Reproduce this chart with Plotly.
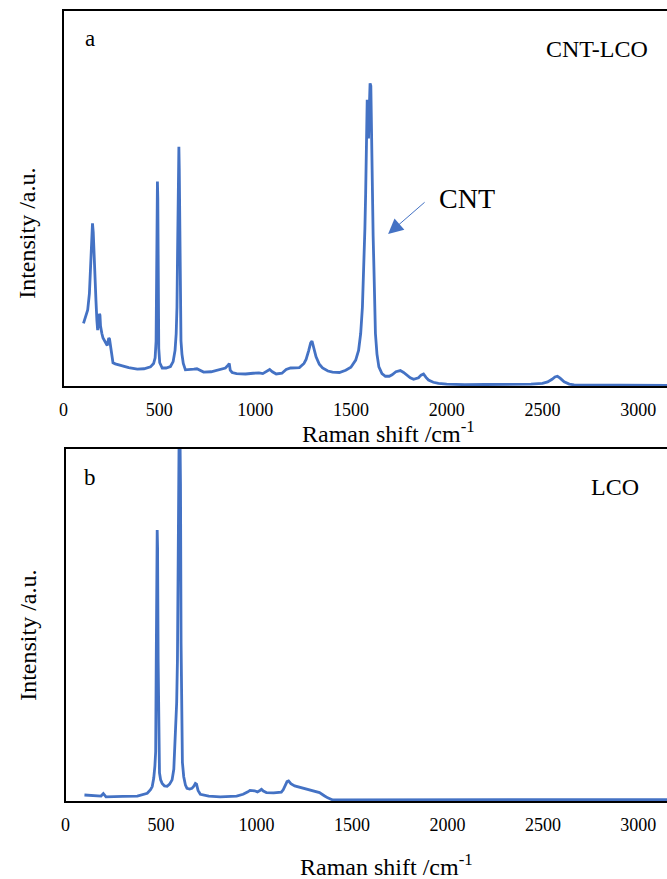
import plotly.graph_objects as go

# Raman spectrum of the CNT-LCO composite (panel a)
cnt_lco_shift = [104, 115, 126, 135, 141, 147, 151, 155, 158, 161, 165, 169, 174, 178, 183, 187, 190, 193,
                 197, 200, 206, 212, 220, 228, 232, 236, 240, 244, 248, 252, 258, 270, 299, 340, 385, 420,
                 454, 470, 478, 483, 486, 488, 490, 492, 494, 497, 502, 515, 535, 558, 572, 582, 588, 592,
                 595, 598, 600, 602, 604, 606, 609, 613, 618, 625, 636, 660, 680, 696, 710, 731, 770, 817,
                 845, 860, 865, 870, 880, 903, 950, 990, 1020, 1040, 1060, 1076, 1090, 1110, 1140, 1162,
                 1185, 1231, 1255, 1266, 1280, 1290, 1297, 1305, 1318, 1335, 1352, 1380, 1404, 1440, 1473,
                 1500, 1525, 1540, 1551, 1560, 1568, 1573, 1577, 1580, 1583, 1585, 1589, 1592, 1596, 1600,
                 1604, 1607, 1611, 1616, 1620, 1624, 1628, 1636, 1646, 1662, 1680, 1700, 1715, 1735, 1758,
                 1775, 1793, 1810, 1827, 1840, 1853, 1866, 1879, 1892, 1905, 1930, 1957, 2000, 2095, 2200,
                 2300, 2440, 2500, 2527, 2550, 2565, 2578, 2592, 2613, 2640, 2665, 2800, 3000, 3150]
cnt_lco_int = [16.7, 18.5, 20.3, 24.7, 33, 41.6, 43.4, 41, 36, 33.6, 28, 22.9, 17.5, 14.9, 17, 19.2, 18.9, 16,
               14.5, 14, 12.8, 12.3, 11.5, 10.8, 11.8, 12.8, 12.5, 11, 9.5, 7.5, 6.2, 5.9, 5.4, 4.9, 4.5, 4.6,
               5.1, 6, 7.5, 12, 30, 50, 54.5, 50, 28, 10, 6.2, 4.8, 4.8, 5.2, 6.5, 9.5, 14, 21,
               35, 55, 63, 63.8, 58, 40, 22, 12, 8.5, 6, 4.3, 4.3, 4.5, 4.6, 4.3, 3.7, 3.8, 4.4,
               4.8, 5.6, 6, 4.2, 3.6, 3.3, 3.2, 3.4, 3.5, 3.3, 3.8, 4.4, 3.8, 3.2, 3.4, 4.4,
               4.8, 4.9, 6, 7.1, 9.5, 11.5, 12, 10.5, 7.8, 5.8, 4.8, 4, 3.7, 3.6, 4.2,
               5, 6.9, 9.5, 14, 21, 31.8, 42, 51.4, 62, 73, 76.3, 73, 66, 74, 80.7,
               80, 66, 49.6, 40, 31.8, 22, 14, 8.5, 5.1, 3.3, 2.6, 2.6, 3, 3.8, 4.1,
               3.6, 2.9, 2.2, 1.8, 1.9, 2.2, 2.9, 3.2, 2.3, 1.6, 1.0, 0.7, 0.5, 0.35, 0.4,
               0.4, 0.5, 0.7, 1.1, 1.8, 2.4, 2.6, 2.1, 1.1, 0.5, 0.3, 0.3, 0.2, 0.15]

# Raman spectrum of bare LCO (panel b)
lco_shift = [99, 150, 186, 198, 212, 300, 376, 428, 445, 454, 462, 468, 472, 475, 478, 480, 482, 485, 488,
             492, 498, 506, 518, 532, 545, 558, 567, 576, 582, 586, 589, 592, 595, 599, 602, 605, 608, 612,
             619, 628, 636, 650, 662, 672, 680, 686, 694, 706, 750, 810, 896, 930, 955, 966, 990, 1005,
             1018, 1026, 1036, 1052, 1090, 1130, 1140, 1150, 1160, 1168, 1180, 1200, 1243, 1290, 1330,
             1355, 1373, 1399, 1500, 1700, 2000, 2200, 2500, 2800, 3050, 3100, 3150]
lco_int = [1.7, 1.5, 1.4, 2.1, 1.2, 1.3, 1.4, 2.2, 3.2, 4.1, 6.5, 10, 14, 40, 70, 77, 72, 40, 15,
           8, 6, 5, 4.3, 4.2, 4.8, 6, 9, 18.3, 28, 40, 65, 95, 106, 106, 90, 45, 20, 11,
           6.9, 4.5, 3.6, 3.4, 3.6, 4.2, 5, 4.8, 3, 1.9, 1.4, 1.2, 1.4, 1.9, 2.6, 3.0, 2.9, 2.6,
           3.0, 3.3, 2.8, 2.4, 2.3, 2.5, 3.2, 4.6, 5.5, 5.7, 4.9, 4.3, 3.6, 2.9, 2.4,
           1.5, 0.9, 0.3, 0.3, 0.35, 0.4, 0.35, 0.3, 0.35, 0.5, 0.4, 0.4]

tick_vals = [0, 500, 1000, 1500, 2000, 2500, 3000]
tick_text = ["0", "500", "1000", "1500", "2000", "2500", "3000"]

W, H = 667, 879
BLUE = "#4472C4"
SERIF = "Liberation Serif, Times New Roman, serif"


def px_x(p):
    return p / W


def px_y(p):
    return 1 - p / H


fig = go.Figure()
fig.add_trace(go.Scatter(x=cnt_lco_shift, y=cnt_lco_int, mode="lines",
                         line=dict(color=BLUE, width=2.8), xaxis="x", yaxis="y", showlegend=False))
fig.add_trace(go.Scatter(x=lco_shift, y=lco_int, mode="lines",
                         line=dict(color=BLUE, width=2.8), xaxis="x2", yaxis="y2", showlegend=False))

xcommon = dict(range=[0, 3150], tickvals=tick_vals, ticktext=tick_text, showgrid=False, zeroline=False,
               showline=True, linecolor="black", linewidth=1.5, mirror=True, ticks="",
               ticklabelstandoff=7, tickfont=dict(family=SERIF, size=18, color="black"))
ycommon = dict(range=[0, 100], showgrid=False, zeroline=False, showticklabels=False, ticks="",
               showline=True, linecolor="black", linewidth=1.5, mirror=False)

fig.update_layout(
    width=W, height=H,
    margin=dict(l=0, r=0, t=0, b=0),
    paper_bgcolor="white", plot_bgcolor="white",
    xaxis=dict(domain=[px_x(59), 1], anchor="y", **xcommon),
    yaxis=dict(domain=[px_y(386), px_y(11)], anchor="x", **ycommon),
    xaxis2=dict(domain=[px_x(61), 1], anchor="y2", **xcommon),
    yaxis2=dict(domain=[px_y(801), px_y(449)], anchor="x2", **ycommon),
)


def label(text, x, y, size, angle=0):
    fig.add_annotation(text=text, x=px_x(x), y=px_y(y), xref="paper", yref="paper",
                       showarrow=False, textangle=angle, xanchor="center", yanchor="middle",
                       font=dict(family=SERIF, size=size, color="black"))


label("a", 86, 39, 23)
label("CNT-LCO", 596, 49, 24)
label("CNT", 465, 198, 28)
label("b", 86, 477, 23)
label("LCO", 615, 487, 24)
label("Raman shift /cm<sup>-1</sup>", 386, 432, 24)
label("Raman shift /cm<sup>-1</sup>", 384, 865, 24)
label("Intensity /a.u.", 22, 233, 24, angle=-90)
label("Intensity /a.u.", 23, 635, 24, angle=-90)

# arrow pointing at the CNT G band
fig.add_annotation(x=px_x(386), y=px_y(234), xref="paper", yref="paper", text="",
                   showarrow=True, ax=38, ay=-33, arrowhead=2, arrowsize=3, arrowwidth=1,
                   arrowcolor=BLUE)

fig.write_html("out.html")
